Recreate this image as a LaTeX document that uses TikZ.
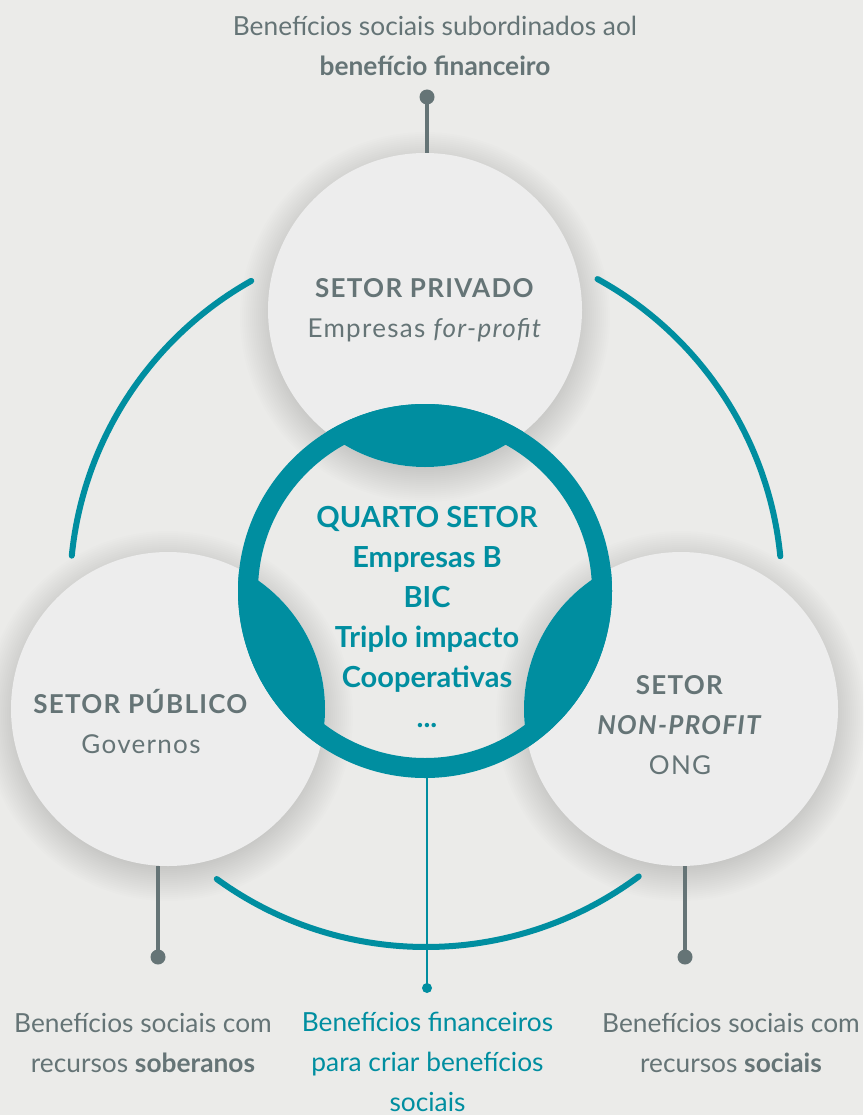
\documentclass[tikz,border=0pt]{standalone}
\usepackage{fontspec}
\setmainfont{Lato}
\definecolor{bg}{HTML}{EBEBE9}
\definecolor{disc}{HTML}{EDEDED}
\definecolor{brandteal}{HTML}{008EA0}
\definecolor{ink}{HTML}{657476}
\newcommand{\spacedtext}{\addfontfeatures{LetterSpace=5}}
\begin{document}
\begin{tikzpicture}[x=1pt,y=-1pt,
  sector/.style={circle, fill=disc, minimum size=314pt, inner sep=0pt, outer sep=0pt},
  softshadow/.style={fill=black, opacity=0.007},
  hubring/.style={circle, draw=brandteal, line width=20pt, minimum size=354pt, inner sep=0pt, outer sep=0pt},
  orbit/.style={draw=brandteal, line width=6pt, line cap=round},
  pinline/.style={draw=ink, line width=4.5pt},
  pindot/.style={circle, fill=ink, minimum size=15pt, inner sep=0pt},
  stemline/.style={draw=brandteal, line width=2.6pt},
  stemdot/.style={circle, fill=brandteal, minimum size=10pt, inner sep=0pt},
  caption/.style={text=ink, align=center, font=\fontsize{26.3}{40}\selectfont, inner sep=0pt},
  sectortext/.style={text=ink, align=center, font=\fontsize{26}{40}\selectfont\spacedtext, inner sep=0pt},
  coretext/.style={text=brandteal, align=center, font=\fontsize{29}{40}\selectfont\bfseries, inner sep=0pt}
]
\fill[bg] (0,0) rectangle (863,1115);
\useasboundingbox (0,0) rectangle (863,1115);

\coordinate (privc) at (425,310);
\coordinate (pubc) at (168,709);
\coordinate (nonpc) at (681,709);

% soft shadows under the sector discs
\foreach \c in {privc,pubc,nonpc}{
  \foreach \k in {0,...,19}{
    \fill[softshadow] ([yshift=-7pt]\c) circle[radius={185pt-2pt*\k}];
  }
}

% the three sectors
\node[sector] (priv) at (privc) {};
\node[sector] (pub) at (pubc) {};
\node[sector] (nonp) at (nonpc) {};

% fourth sector ring and its overlaps with the sectors
\node[hubring] (ring) at (425,591) {};
\begin{scope}
  \clip (ring.center) circle[radius=187pt];
  \fill[brandteal] (priv.center) circle[radius=157pt];
  \fill[brandteal] (pub.center) circle[radius=157pt];
  \fill[brandteal] (nonp.center) circle[radius=157pt];
\end{scope}

% outer orbit arcs
\coordinate (hub) at (426,591);
\draw[orbit] ([shift={(174.3:356pt)}]hub) arc[start angle=174.3, end angle=119.4, radius=356pt];
\draw[orbit] ([shift={(61.2:356pt)}]hub) arc[start angle=61.2, end angle=5.6, radius=356pt];
\draw[orbit] ([shift={(-126:356pt)}]hub) arc[start angle=-126, end angle=-53.3, radius=356pt];

% pins
\node[pindot] (tdot) at (427,97) {};
\draw[pinline] (tdot.center) -- (tdot.center |- priv.north);
\node[pindot] (ldot) at (158,957) {};
\draw[pinline] (ldot.center) -- (ldot.center |- pub.south);
\node[pindot] (rdot) at (685,957) {};
\draw[pinline] (rdot.center) -- (rdot.center |- nonp.south);
\node[stemdot] (cdot) at (427,988) {};
\draw[stemline] (cdot.center) -- (cdot.center |- ring.south);

% sector labels
\node[sectortext] (privtxt) at (425,310) {\textbf{SETOR PRIVADO}\\Empresas \textit{for-profit}};
\node[sectortext] (pubtxt) at (141,721) {\textbf{SETOR PÚBLICO}\\Governos};
\node[sectortext] (nonptxt) at (680,725) {\textbf{SETOR}\\\textbf{\textit{NON-PROFIT}}\\ONG};
\node[coretext] (coretxt) at (427,617) {QUARTO SETOR\\Empresas B\\BIC\\Triplo impacto\\Cooperativas\\...};

% captions
\node[caption] (toptxt) at (435,45.5) {Benefícios sociais subordinados aol\\\textbf{benefício financeiro}};
\node[caption] (lcap) at (143,1043) {Benefícios sociais com\\recursos \textbf{soberanos}};
\node[caption, text=brandteal] (ccap) at (427.5,1062) {Benefícios financeiros\\para criar benefícios\\sociais};
\node[caption] (rcap) at (731,1043) {Benefícios sociais com\\recursos \textbf{sociais}};
\end{tikzpicture}
\end{document}
